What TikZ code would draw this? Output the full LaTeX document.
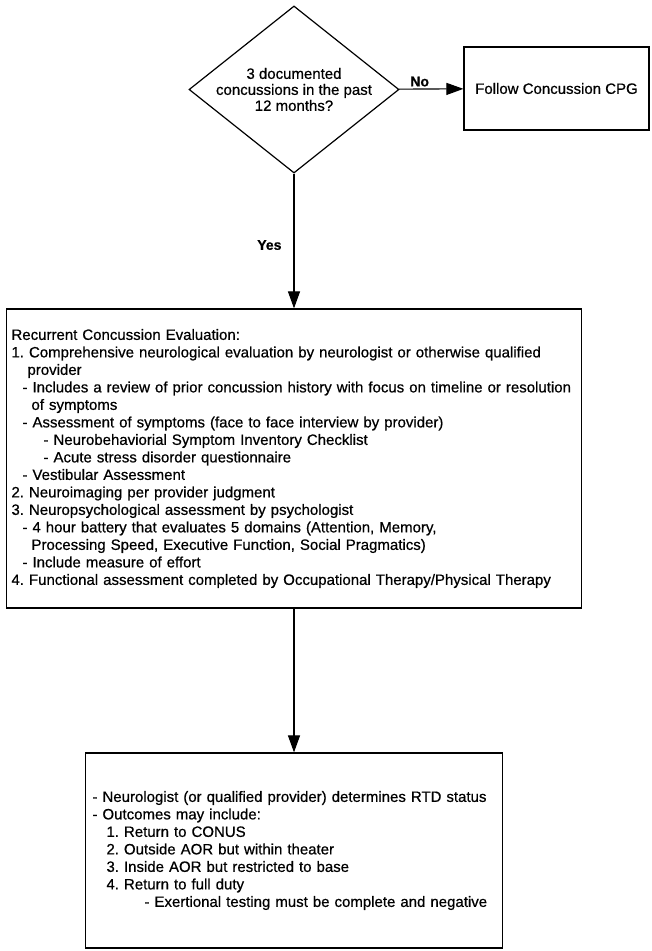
\documentclass[tikz,border=0pt]{standalone}
\usepackage{fontspec}
\setmainfont{Liberation Sans}[FakeBold=0.6,BoldFont={Liberation Sans Bold},BoldFeatures={FakeBold=0.6}]
\usepackage{tikz}
\usetikzlibrary{arrows.meta,shapes,shapes.geometric}
\usetikzlibrary{positioning, quotes}
\frenchspacing

\begin{document}
\begin{tikzpicture}[x=1pt,y=-1pt]
\tikzstyle{every node}=[font=\fontsize{15}{17.5}\selectfont];
\tikzstyle{block}=[draw,line width=1.2pt,rectangle,inner ysep=0pt];
\tikzstyle{branch}=[font=\fontsize{14}{16}\bfseries\selectfont,inner sep=2pt];
\tikzstyle{flow}=[line width=1.1pt,-{Triangle[length=17pt,width=12pt]}];

\useasboundingbox (0,0) rectangle (651,951);

\node[diamond,draw,line width=1.2pt,aspect=1.257,inner sep=0pt,align=center,
      font=\fontsize{15}{16}\selectfont] (decision) at (294,89.5) {
3 documented\\
concussions in the past\\
12 months?
};

\node[block,minimum width=185pt,minimum height=83pt] (cpg) at (556.5,88.5)
  {Follow Concussion CPG};

\node[block,minimum width=575pt,minimum height=299pt,inner xsep=5pt,
      text width=565pt,align=left] (evaluation) at (294,458.5) {
Recurrent Concussion Evaluation:\\
1. Comprehensive neurological evaluation by neurologist or otherwise qualified\\
\hspace*{16pt}provider\\
\hspace*{11pt}- Includes a review of prior concussion history with focus on timeline or resolution\\
\hspace*{20pt}of symptoms\\
\hspace*{11pt}- Assessment of symptoms (face to face interview by provider)\\
\hspace*{32pt}- Neurobehaviorial Symptom Inventory Checklist\\
\hspace*{32pt}- Acute stress disorder questionnaire\\
\hspace*{11pt}- Vestibular Assessment\\
2. Neuroimaging per provider judgment\\
3. Neuropsychological assessment by psychologist\\
\hspace*{11pt}- 4 hour battery that evaluates 5 domains (Attention, Memory,\\
\hspace*{20pt}Processing Speed, Executive Function, Social Pragmatics)\\
\hspace*{11pt}- Include measure of effort\\
4. Functional assessment completed by Occupational Therapy/Physical Therapy
};

\node[block,minimum width=417pt,minimum height=195pt,inner xsep=7pt,
      text width=403pt,align=left] (rtd) at (294,850.5) {
- Neurologist (or qualified provider) determines RTD status\\
- Outcomes may include:\\
\hspace*{14pt}1. Return to CONUS\\
\hspace*{14pt}2. Outside AOR but within theater\\
\hspace*{14pt}3. Inside AOR but restricted to base\\
\hspace*{14pt}4. Return to full duty\\
\hspace*{52pt}- Exertional testing must be complete and negative
};

\path[draw] [flow] (decision) -- node[branch,above,pos=0.32] (no) {No} (cpg);
\path[draw] [flow] (decision) -- node[branch,left=10pt,pos=0.53] (yes) {Yes} (evaluation);
\path[draw] [flow] (evaluation) -- (rtd);
\end{tikzpicture}
\end{document}
